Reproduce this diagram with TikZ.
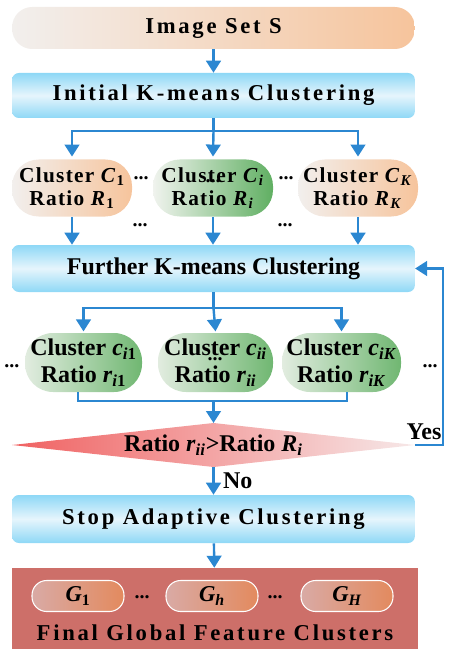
\documentclass[tikz,border=0pt]{standalone}
\usepackage{fontspec}
\setmainfont{Liberation Serif}
\newfontfamily\widefont[LetterSpace=12]{Liberation Serif}
\newfontfamily\halfwidefont[LetterSpace=6]{Liberation Serif}
\usepackage{xcolor}
\usepackage{tikz}
\usetikzlibrary{arrows.meta,shapes.geometric}
\definecolor{flow}{RGB}{43, 135, 209}
\definecolor{skyedge}{RGB}{142, 216, 246}
\definecolor{skymid}{RGB}{230, 245, 252}
\definecolor{peachL}{RGB}{242, 239, 237}
\definecolor{peachR}{RGB}{246, 196, 156}
\definecolor{leafL}{RGB}{240, 243, 238}
\definecolor{leafR}{RGB}{96, 175, 98}
\definecolor{roseL}{RGB}{240, 98, 98}
\definecolor{roseR}{RGB}{246, 232, 232}
\definecolor{brick}{RGB}{205, 111, 105}
\definecolor{clayL}{RGB}{217, 170, 165}
\definecolor{clayR}{RGB}{227, 138, 94}

\begin{document}
\begin{tikzpicture}[x=0.75pt, y=-0.75pt, >={Triangle[width=11pt,length=9pt]},
  flowline/.style={draw=flow, line width=1.8pt},
  stagebox/.style={rectangle, rounded corners=5pt, minimum width=302pt,
    top color=skyedge, bottom color=skyedge, middle color=skymid,
    font=\bfseries\widefont\fontsize{17}{20}\selectfont},
  peachpill/.style={rectangle, rounded corners=20pt, minimum width=90pt, minimum height=42.75pt,
    left color=peachL, right color=peachR, align=center,
    font=\bfseries\halfwidefont\fontsize{16}{17}\selectfont},
  leafpill/.style={peachpill, left color=leafL, right color=leafR},
  subpill/.style={rectangle, rounded corners=21pt, minimum width=87.75pt, minimum height=44.25pt,
    left color=leafL!90!leafR, right color=leafR!90!white, align=center,
    font=\bfseries\fontsize{18}{20}\selectfont},
  gpill/.style={rectangle, rounded corners=11pt, minimum width=69pt, minimum height=23.25pt,
    draw=white, line width=0.8pt, left color=clayL, right color=clayR,
    font=\bfseries\itshape\fontsize{17}{18}\selectfont},
  dots/.style={font=\bfseries\fontsize{15}{16}\selectfont, inner sep=0pt}
]
  \useasboundingbox (0,0) rectangle (457,649);

  % Input
  \node[rectangle, rounded corners=15pt, minimum width=302pt, minimum height=31.5pt,
    left color=peachL, right color=peachR, font=\bfseries\widefont\fontsize{17}{20}\selectfont]
    (set) at (213.5,28) {Image Set S};

  % Initial clustering
  \node[stagebox, minimum height=33.75pt] (init) at (213.5,95.5) {Initial K-means Clustering};
  \coordinate (split1) at (213.5,131);

  \node[peachpill] (C1) at (72,188) {Cluster \textit{C}\textsubscript{1}\\Ratio \textit{R}\textsubscript{1}};
  \node[leafpill] (Ci) at (213,188) {Cluster \textit{C}\textsubscript{\textit{i}}\\Ratio \textit{R}\textsubscript{\textit{i}}};
  \node[peachpill] (CK) at (358,188) {Cluster \textit{C}\textsubscript{\textit{K}}\\Ratio \textit{R}\textsubscript{\textit{K}}};
  \node[dots] (dA) at (141,178) {...};
  \node[dots] (dB) at (286,178) {...};
  \node[dots] (dC) at (140,225) {...};
  \node[dots] (dD) at (285,225) {...};
  \node[dots] (dE) at (213,181) {...};

  % Further clustering
  \node[stagebox, minimum height=35.25pt, font=\bfseries\fontsize{18}{20}\selectfont]
    (further) at (213.5,268.5) {Further K-means Clustering};
  \coordinate (split2) at (213.5,308);

  \node[subpill] (c1) at (83.5,362.5) {Cluster \textit{c}\textsubscript{\textit{i}1}\\Ratio \textit{r}\textsubscript{\textit{i}1}};
  \node[subpill, minimum width=86.25pt] (cii) at (215.5,362.5) {Cluster \textit{c}\textsubscript{\textit{ii}}\\Ratio \textit{r}\textsubscript{\textit{ii}}};
  \node[subpill] (ciK) at (341.5,362.5) {Cluster \textit{c}\textsubscript{\textit{iK}}\\Ratio \textit{r}\textsubscript{\textit{iK}}};
  \node[dots] (dF) at (12,366) {...};
  \node[dots] (dG) at (430,366) {...};
  \node[dots] (dH) at (215,359) {...};
  \coordinate (merge) at (213.5,401);

  % Decision
  \node[diamond, aspect=9, inner sep=0pt, outer sep=0pt, minimum width=302pt, minimum height=33pt,
    left color=roseL, right color=roseR, font=\bfseries\fontsize{18}{20}\selectfont]
    (cond) at (213.5,445) {Ratio \textit{r}\textsubscript{\textit{ii}}>Ratio \textit{R}\textsubscript{\textit{i}}};
  \coordinate (loop) at (443,445);

  % Stop
  \node[stagebox, minimum height=36pt] (stop) at (213.5,519) {Stop Adaptive Clustering};

  % Output
  \node[rectangle, fill=brick, minimum width=304.5pt, minimum height=60.75pt] (final) at (215,608.5) {};
  \node[gpill] (G1) at (78,596) {G\textsubscript{\upshape 1}};
  \node[gpill] (Gh) at (212,596) {G\textsubscript{h}};
  \node[gpill] (GH) at (347,596) {G\textsubscript{H}};
  \node[dots] (dI) at (142,597) {...};
  \node[dots] (dJ) at (275,597) {...};
  \node[font=\bfseries\widefont\fontsize{17}{20}\selectfont] (finaltext) at (215,633) {Final Global Feature Clusters};

  % Connectors
  \draw[flowline,->] (set) -- (init);
  \draw[flowline] (init.south) -- (split1);
  \draw[flowline,->] (split1) -| ([yshift=2pt]C1.north);
  \draw[flowline,->] (split1) -- ([yshift=2pt]Ci.north);
  \draw[flowline,->] (split1) -| ([yshift=2pt]CK.north);
  \draw[flowline,->] (C1.south) -- (C1.south |- further.north);
  \draw[flowline,->] (Ci.south) -- (Ci.south |- further.north);
  \draw[flowline,->] (CK.south) -- (CK.south |- further.north);
  \draw[flowline] (further.south) -- (split2);
  \draw[flowline,->] (split2) -| ([yshift=1pt]c1.north);
  \draw[flowline,->] (split2) -- ([yshift=1pt]cii.north);
  \draw[flowline,->] (split2) -| ([yshift=1pt]ciK.north);
  \draw[flowline] ([xshift=-4pt]c1.south) |- (merge) -| ([xshift=4pt]ciK.south);
  \draw[flowline,->] (merge) -- (cond.north);
  \draw[flowline,->] (cond.south) -- node[right=3pt, font=\bfseries\fontsize{18}{20}\selectfont, text=black] {No} (stop.north);
  \draw[flowline,->] (cond.east) -- (loop) |- (further.east);
  \node[font=\bfseries\fontsize{18}{20}\selectfont] (yes) at (424,432) {Yes};
  \draw[flowline,->] (stop) -- (final);
\end{tikzpicture}
\end{document}
